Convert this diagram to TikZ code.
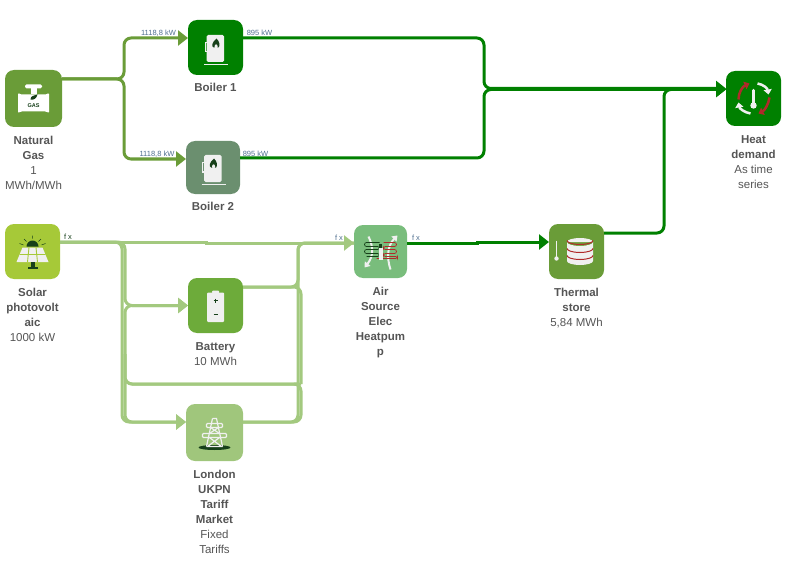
\documentclass[tikz,border=0pt]{standalone}
\usepackage{fontspec}
\setmainfont{Liberation Sans}
\usepackage{xcolor}
\usetikzlibrary{arrows.meta}

\definecolor{gasgreen}{HTML}{6A9C38}
\definecolor{heatgreen}{HTML}{008000}
\definecolor{greygreen}{HTML}{6B8F6F}
\definecolor{solargreen}{HTML}{A6C938}
\definecolor{batgreen}{HTML}{6DAB3A}
\definecolor{gridgreen}{HTML}{A0C67C}
\definecolor{pumpgreen}{HTML}{79BD7C}
\definecolor{elecline}{HTML}{A3C97F}
\definecolor{darkicon}{HTML}{17401A}
\definecolor{iconwhite}{HTML}{F0F0F0}
\definecolor{iconred}{HTML}{B02A2A}
\definecolor{captext}{HTML}{555555}
\definecolor{flowtext}{HTML}{4F6F8F}

% white fuel pump with a small flame
\newcommand{\boilericon}{
\fill[iconwhite,rounded corners=1.5pt] (-8.8,-12.5) rectangle (8.5,14.5);
\fill[iconwhite] (-11,-5.5) rectangle (-9.6,5);
\fill[iconwhite] (-11,-5.5) rectangle (-8.8,-4.4);
\fill[iconwhite] (-11,3.9) rectangle (-8.8,5);
\draw[iconwhite,line width=0.9pt] (-11.5,17) -- (12.5,17);
\fill[darkicon] (1,-9) .. controls (-4,-5) and (-4,-1) .. (-2,0) -- (3,0) .. controls (5,-2) and (4,-6) .. (1,-9);
\fill[iconwhite] (0.6,-1) ellipse (1.5pt and 2.2pt);
}

\begin{document}
\begin{tikzpicture}[x=1pt,y=-1pt]
\tikzstyle{every node}=[font=\fontsize{11.5}{15}\selectfont]
\tikzstyle{box}=[draw=none,rounded corners=9pt,inner sep=0pt,outer sep=0pt]
\tikzstyle{caption}=[anchor=north,align=center,inner sep=0pt,text=captext]
\tikzstyle{flowlabel}=[font=\fontsize{7.5}{9}\selectfont,inner sep=0pt,text=flowtext]
\tikzstyle{flow}=[line width=3pt,rounded corners=7pt,-{Triangle[length=10pt,width=15pt]}]
\tikzstyle{plain}=[line width=3pt,rounded corners=7pt]
\useasboundingbox (0,0) rectangle (787,567);

\node (gas) at (33.5,98.5) [box,fill=gasgreen,minimum width=57pt,minimum height=57pt] {};
\node (boiler1) at (215.5,47.5) [box,fill=heatgreen,minimum width=55pt,minimum height=55pt] {};
\node (boiler2) at (213,167.5) [box,fill=greygreen,minimum width=54pt,minimum height=53pt] {};
\node (solar) at (32.5,251.5) [box,fill=solargreen,minimum width=55pt,minimum height=55pt] {};
\node (battery) at (215.5,305.5) [box,fill=batgreen,minimum width=55pt,minimum height=55pt] {};
\node (grid) at (214.5,432.5) [box,fill=gridgreen,minimum width=57pt,minimum height=57pt] {};
\node (pump) at (380.5,251.5) [box,fill=pumpgreen,minimum width=53pt,minimum height=53pt] {};
\node (store) at (576.5,251.5) [box,fill=gasgreen,minimum width=55pt,minimum height=55pt] {};
\node (heat) at (753.5,98.5) [box,fill=heatgreen,minimum width=55pt,minimum height=55pt] {};

\node (gascap) at (33.5,136) [caption] {\textbf{Natural}\\\textbf{Gas}\\1\\MWh/MWh};
\node (boiler1cap) at (215.5,83) [caption] {\textbf{Boiler 1}};
\node (boiler2cap) at (213,202) [caption] {\textbf{Boiler 2}};
\node (solarcap) at (32.5,288) [caption] {\textbf{Solar}\\\textbf{photovolt}\\\textbf{aic}\\1000 kW};
\node (batterycap) at (215.5,342) [caption] {\textbf{Battery}\\10 MWh};
\node (gridcap) at (214.5,470) [caption] {\textbf{London}\\\textbf{UKPN}\\\textbf{Tariff}\\\textbf{Market}\\Fixed\\Tariffs};
\node (pumpcap) at (380.5,287) [caption] {\textbf{Air}\\\textbf{Source}\\\textbf{Elec}\\\textbf{Heatpum}\\\textbf{p}};
\node (storecap) at (576.5,288) [caption] {\textbf{Thermal}\\\textbf{store}\\5,84 MWh};
\node (heatcap) at (753.5,135) [caption] {\textbf{Heat}\\\textbf{demand}\\As time\\series};

% gas and heat network
\draw[flow,gasgreen] ([yshift=19.5pt]gas.east) -| (124,60) |- ([yshift=9.5pt]boiler1.west);
\draw[flow,gasgreen] ([yshift=19.5pt]gas.east) -| (124,120) |- ([yshift=8.5pt]boiler2.west);
\draw[flow,heatgreen] ([yshift=9.5pt]boiler1.east) -| (484,60) |- ([yshift=10pt]heat.west);
\draw[flow,heatgreen] ([yshift=9.5pt]boiler2.east) -| (484,120) |- ([yshift=9pt]heat.west);
\draw[flow,heatgreen] ([yshift=18.5pt]store.east) -| (664,160) |- ([yshift=9pt]heat.west);
\draw[flow,heatgreen,rounded corners=0pt] ([yshift=8.5pt]pump.east) -- (477,243) -- (477,242) -- ([yshift=9.5pt]store.west);

% electricity network
\draw[flow,elecline,rounded corners=0pt] ([yshift=9.5pt]solar.east) -- (206,242) -- (206,243) -- ([yshift=8.5pt]pump.west);
\draw[flow,elecline] ([yshift=9.5pt]solar.east) -| (125,270) |- (battery.west);
\draw[flow,elecline] ([yshift=9.5pt]solar.east) -| (122,350) |- ([yshift=10.5pt]grid.west);
\draw[plain,elecline] ([yshift=18.5pt]battery.east) -| (298,265) |- ([yshift=8.5pt]pump.west);
\draw[plain,elecline] ([yshift=18.5pt]battery.east) -| (301,384);
\draw[flow,elecline] (301,384) -| (125,350) |- ([yshift=10.5pt]grid.west);
\draw[flow,elecline] (298,384) -| (125,340) |- (battery.west);
\draw[plain,elecline] ([yshift=10.5pt]grid.east) -| (301,384) -- (298,384);
\draw[plain,elecline] ([yshift=10.5pt]grid.east) -| (298,265) |- ([yshift=8.5pt]pump.west);

% flow values
\node (gasflow1) at (158.5,33) [flowlabel] {1118,8 kW};
\node (gasflow2) at (157,154) [flowlabel] {1118,8 kW};
\node (heatflow1) at (259.5,33) [flowlabel] {895 kW};
\node (heatflow2) at (255.5,154) [flowlabel] {895 kW};
\node (solarfx) at (68,237) [flowlabel,text=darkicon] {f x};
\node (pumpfxin) at (339,238) [flowlabel] {f x};
\node (pumpfxout) at (416,238) [flowlabel] {f x};

% gas valve
\begin{scope}[shift={(gas)}]
\fill[white,rounded corners=1pt] (-15.5,-5.5) -- (-12.5,-4) -- (12.5,-4) -- (15.5,-5.5) -- (15.5,14.5) -- (12.5,13) -- (-12.5,13) -- (-15.5,14.5) -- cycle;
\fill[white] (-3,-12) rectangle (3,-4);
\fill[white,rounded corners=1.5pt] (-8.5,-14) rectangle (8.5,-10);
\fill[darkicon] (-3,1) .. controls (-3,-3) and (1,-3) .. (4,-4) .. controls (3,0) and (0,2) .. (-3,1);
\node (gasword) at (0,7) [inner sep=0pt,text=darkicon,font=\fontsize{5.5}{7}\selectfont\bfseries] {GAS};
\end{scope}

% boilers
\begin{scope}[shift={(boiler1)}]
\boilericon
\end{scope}
\begin{scope}[shift={(boiler2)}]
\boilericon
\end{scope}

% solar panel
\begin{scope}[shift={(solar)}]
\fill[darkicon] (-6,-5) arc (180:360:6) -- cycle;
\draw[darkicon,line width=0.5pt] (0,-13) -- (0,-16) (-6,-10) -- (-8.5,-12.5) (6,-10) -- (8.5,-12.5) (-9,-6.5) -- (-13,-8) (9,-6.5) -- (13,-8);
\fill[iconwhite] (-10,-4) -- (10,-4) -- (16,10.5) -- (-16,10.5) -- cycle;
\draw[solargreen,line width=0.9pt] (-3.5,-4) -- (-5,10.5) (3.5,-4) -- (5,10.5) (-13,3) -- (13,3);
\fill[darkicon] (-2,10.5) rectangle (2,15);
\fill[darkicon] (-5,15) rectangle (5,17);
\end{scope}

% battery
\begin{scope}[shift={(battery)}]
\fill[iconwhite,rounded corners=1pt] (-8.5,-13) rectangle (8.5,16.5);
\fill[iconwhite,rounded corners=1pt] (-3.5,-15) rectangle (3.5,-12);
\draw[darkicon,line width=0.8pt] (-2,-5) -- (2,-5) (0,-7) -- (0,-3) (-2,9) -- (2,9);
\end{scope}

% pylon
\begin{scope}[shift={(grid)}]
\fill[darkicon] (0,15) ellipse (16pt and 2.5pt);
\draw[iconwhite,line width=1.2pt] (-2,-14) -- (2,-14) -- (8,14) (-2,-14) -- (-8,14);
\draw[iconwhite,line width=1.2pt,rounded corners=1pt] (-8,-9) rectangle (8,-5) (-12,1) rectangle (12,5);
\draw[iconwhite,line width=1.2pt] (-8,14) -- (8,14) (-4,-5) -- (5,1) (4,-5) -- (-5,1) (-5,5) -- (7,14) (5,5) -- (-7,14);
\end{scope}

% heat pump
\begin{scope}[shift={(pump)}]
\draw[iconwhite,line width=2pt,-{Triangle[length=5pt,width=7pt]}] (-12,-15) .. controls (-7,-5) and (-7,5) .. (-16,16);
\draw[iconwhite,line width=2pt,-{Triangle[length=5pt,width=7pt]}] (10,18) .. controls (6,6) and (7,-6) .. (17,-16);
\draw[darkicon,line width=0.7pt,rounded corners=2pt] (-1,-9) -- (-16,-9) -- (-16,-5) -- (-1,-5) -- (-1,-2) -- (-16,-2) -- (-16,2) -- (-1,2) -- (-1,5) -- (-14,5);
\draw[iconred,line width=0.7pt,rounded corners=2pt] (3,-9) -- (16,-9) -- (16,-5) -- (3,-5) -- (3,-2) -- (16,-2) -- (16,2) -- (3,2) -- (3,5) -- (17,5) -- (17,7) -- (-4,7);
\fill[iconwhite] (-2,-4) rectangle (2,8);
\fill[darkicon] (-1.5,-8) rectangle (1.5,-4);
\end{scope}

% thermal store
\begin{scope}[shift={(store)}]
\fill[iconwhite] (-9.5,-9.5) -- (-9.5,9.5) arc (180:0:13 and 4) -- (16.5,-9.5) arc (0:180:13 and 4) -- cycle;
\fill[iconwhite] (-9.5,-9.5) arc (180:360:13 and 4) -- cycle;
\draw[iconred,line width=1pt] (-9.5,-11) arc (180:0:13 and 4) (-9.5,-3) arc (180:0:13 and 4) (-9.5,4) arc (180:0:13 and 4);
\draw[iconwhite,line width=1.5pt] (-20,-11) -- (-20,6);
\fill[iconwhite] (-20,7) circle (2.2pt);
\end{scope}

% heat demand
\begin{scope}[shift={(heat)}]
\draw[iconwhite,line width=2.5pt,-{Triangle[length=5pt,width=8pt]}] (4,-15) .. controls (10,-14) and (14,-10) .. (15,-4);
\draw[iconwhite,line width=2.5pt,-{Triangle[length=5pt,width=8pt]}] (-3,15) .. controls (-9,14) and (-14,10) .. (-15,4);
\draw[iconred,line width=2.5pt,-{Triangle[length=5pt,width=8pt]}] (-15,1) .. controls (-15,-6) and (-11,-12) .. (-4,-15);
\draw[iconred,line width=2.5pt,-{Triangle[length=5pt,width=8pt]}] (16,-1) .. controls (15,6) and (11,12) .. (5,15);
\draw[iconwhite,line width=3.5pt,line cap=round] (0,-8) -- (0,6);
\fill[iconwhite] (0,7) circle (3.2pt);
\end{scope}

\end{tikzpicture}
\end{document}
